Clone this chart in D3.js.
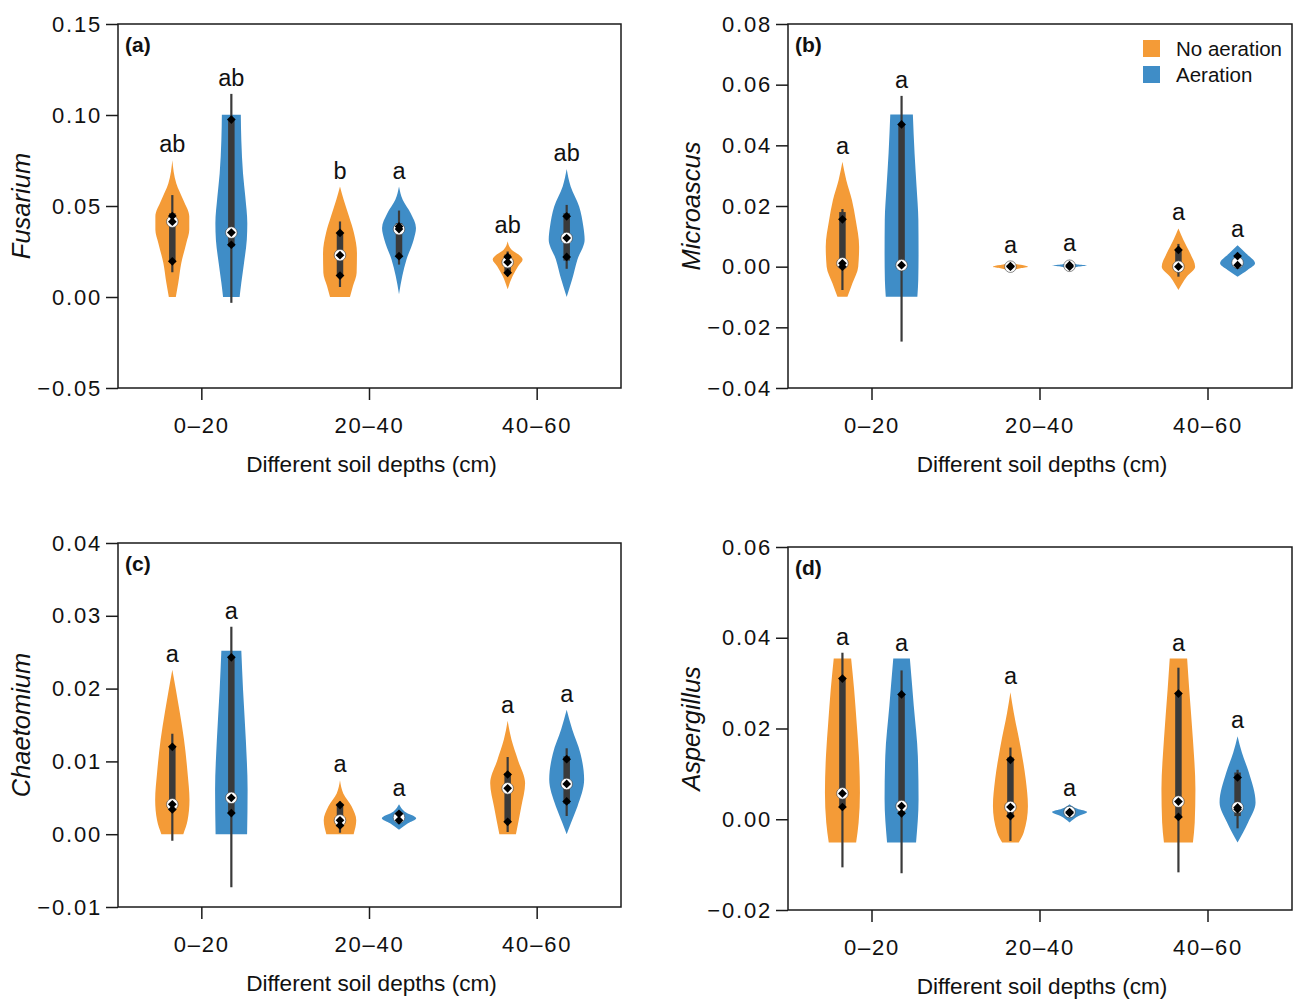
<!DOCTYPE html>
<html><head><meta charset="utf-8">
<script src="https://cdn.jsdelivr.net/npm/d3@7"></script>
<style>
body{margin:0;background:#fff}
text{font-family:"Liberation Sans",Arial,Helvetica,sans-serif;fill:#111}
</style>
</head><body>
<svg id="chart" width="1297" height="1006"></svg>
<script>
// ---------------- DATA ----------------
const categories = ["0–20", "20–40", "40–60"];
const treatments = ["No aeration", "Aeration"];
const panelTags = ["(a)", "(b)", "(c)", "(d)"];
const genera = ["Fusarium", "Microascus", "Chaetomium", "Aspergillus"];
const xTitle = "Different soil depths (cm)";

const yDomains = [[-0.05, 0.15], [-0.04, 0.08], [-0.01, 0.04], [-0.02, 0.06]];
const yTicksA = [-0.05, 0.00, 0.05, 0.10, 0.15];
const yTicksB = [-0.04, -0.02, 0.00, 0.02, 0.04, 0.06, 0.08];
const yTicksC = [-0.01, 0.00, 0.01, 0.02, 0.03, 0.04];
const yTicksD = [-0.02, 0.00, 0.02, 0.04, 0.06];

// order: 0–20 No aeration, 0–20 Aeration, 20–40 No, 20–40 A, 40–60 No, 40–60 A
const lettersA = ["ab", "ab", "b", "a", "ab", "ab"];
const lettersB = ["a", "a", "a", "a", "a", "a"];
const lettersC = ["a", "a", "a", "a", "a", "a"];
const lettersD = ["a", "a", "a", "a", "a", "a"];

// violin density profiles: [value, density]
const profileA = [
  [[0.0751,0],[0.0624,4],[0.0533,11],[0.0442,17],[0.0369,17],[0.0296,14],[0.0187,9],[0.0078,6],[0,3.5]],
  [[0.1002,9.5],[0.0861,10],[0.0679,11.7],[0.0551,14],[0.0405,16],[0.0314,15.5],[0.0187,12.7],[0.0078,10],[0,8.3]],
  [[0.0607,0],[0.0534,3.7],[0.0443,9],[0.0352,14],[0.0242,17],[0.0133,16.7],[0.006,13],[0,10]],
  [[0.0607,0],[0.0534,3.7],[0.046,11.7],[0.0379,17],[0.0315,14.7],[0.0206,7.5],[0.0115,3.3],[0.0015,0]],
  [[0.0306,0],[0.026,4],[0.0233,11],[0.0206,15],[0.0169,10.5],[0.0115,5],[0.0042,0]],
  [[0.0703,0],[0.0607,4],[0.0497,12.5],[0.0388,16.7],[0.0315,18],[0.0206,10.8],[0.0097,5.5],[0,0]]
];
const profileB = [
  [[0.0346,0],[0.0286,3.8],[0.022,9.5],[0.0154,13.3],[0.0066,16.7],[0,15.8],[-0.0055,10],[-0.0099,5]],
  [[0.0502,11.3],[0.0374,13],[0.0264,15],[0.0154,16.8],[0.0044,17],[-0.0044,16.7],[-0.0099,15.8]],
  [[0.0018,0],[0.0009,5],[0.0003,15],[0,17.5],[-0.0005,10],[-0.0013,0]],
  [[0.0024,0],[0.0013,2],[0.0007,8],[0.0004,17],[0.0,8],[-0.0007,2],[-0.0013,0]],
  [[0.0126,0],[0.0088,5],[0.0044,11.7],[0,16.7],[-0.0033,8.3],[-0.0077,0]],
  [[0.0071,0],[0.0044,8.3],[0.0011,17.5],[-0.0011,10],[-0.0033,0]]
];
const profileC = [
  [[0.0226,0],[0.0199,3.5],[0.0167,7.5],[0.013,11.7],[0.0084,15.3],[0.0047,17.2],[0.0019,15.3],[0,11]],
  [[0.0252,10],[0.0199,11.7],[0.013,14.5],[0.0061,16.3],[0,15.8]],
  [[0.0074,0],[0.0056,3.3],[0.0038,11.7],[0.0019,16.3],[0,13.7]],
  [[0.0041,0],[0.0031,5.8],[0.0022,17.2],[0.0015,9],[0.0006,0]],
  [[0.0156,0],[0.013,3.8],[0.0102,10.3],[0.007,17.5],[0.0038,13.7],[0,8.3]],
  [[0.0171,0],[0.0144,5.5],[0.0111,13.8],[0.0075,17.5],[0.0038,10.8],[0.0015,4.2],[0,0]]
];
const profileD = [
  [[0.0354,8.7],[0.0286,11.7],[0.0213,14.2],[0.0139,16.5],[0.0059,17.5],[-0.0007,16.2],[-0.0051,13.7]],
  [[0.0354,8.3],[0.025,12.2],[0.0139,16.3],[0.0044,17],[-0.0051,14.5]],
  [[0.028,0],[0.0235,3.3],[0.0161,10],[0.0088,15.3],[0.0029,17.5],[-0.0029,13.3],[-0.0051,8.3]],
  [[0.0033,0],[0.0023,7.8],[0.0016,17.5],[0.0007,9],[-0.0007,0]],
  [[0.0354,8.7],[0.0286,10.8],[0.0176,14.5],[0.0066,17],[-0.0007,16.3],[-0.0051,14.5]],
  [[0.0183,0],[0.0147,4.3],[0.0103,11.3],[0.0037,18],[-0.0007,10.5],[-0.0051,0]]
];

const whiskLoA = [0.0136, -0.0032, 0.0055, 0.0178, 0.0115, 0.0155];
const whiskHiA = [0.056, 0.1116, 0.0415, 0.0475, 0.025, 0.0506];
const q1A = [0.019, 0.0278, 0.0115, 0.0224, 0.0133, 0.020];
const q3A = [0.046, 0.097, 0.0352, 0.0406, 0.0233, 0.046];
const medianA = [0.0414, 0.0354, 0.023, 0.0373, 0.0191, 0.0324];
const pointsA = [[0.0445,0.0414,0.0196],[0.0975,0.0354,0.0287],[0.0352,0.023,0.0118],[0.0388,0.0373,0.0224],[0.022,0.0191,0.0133],[0.0443,0.0324,0.022]];

const whiskLoB = [-0.0077, -0.0247, 0, 0, -0.0033, -0.0005];
const whiskHiB = [0.019, 0.0563, 0, 0.0005, 0.0075, 0.0044];
const q1B = [0.0005, 0.0005, 0, 0, 0, 0.0002];
const q3B = [0.018, 0.0469, 0.0003, 0.0005, 0.0055, 0.0038];
const medianB = [0.0011, 0.0005, 0.0, 0.0003, 0.0, 0.0013];
const pointsB = [[0.0156,0.0011,0.0],[0.0469,0.0005],[0.0,0.0002],[0.0005,0.0],[0.0055,0.0],[0.0035,0.0005]];

const whiskLoC = [-0.0009, -0.0073, 0.0002, 0.0018, 0.0003, 0.0025];
const whiskHiC = [0.0138, 0.0285, 0.0045, 0.0028, 0.0106, 0.0118];
const q1C = [0.0033, 0.0029, 0.001, 0.0019, 0.0017, 0.0042];
const q3C = [0.0121, 0.0243, 0.0042, 0.0027, 0.0084, 0.0107];
const medianC = [0.0041, 0.005, 0.0019, 0.0023, 0.0063, 0.0069];
const pointsC = [[0.012,0.0041,0.0034],[0.0243,0.005,0.0029],[0.004,0.0019,0.0012],[0.0028,0.0019],[0.0082,0.0063,0.0017],[0.0103,0.0069,0.0045]];

const whiskLoD = [-0.0106, -0.0119, -0.0048, 0.0013, -0.0117, -0.002];
const whiskHiD = [0.0367, 0.0328, 0.0158, 0.0019, 0.0334, 0.0109];
const q1D = [0.0029, 0.0013, 0.0004, 0.0013, 0.0004, 0.0007];
const q3D = [0.0312, 0.0275, 0.0136, 0.0019, 0.0279, 0.0103];
const medianD = [0.0057, 0.0029, 0.0027, 0.0016, 0.0039, 0.0026];
const pointsD = [[0.031,0.0057,0.0027],[0.0275,0.0029,0.0013],[0.0131,0.0027,0.0007],[0.0016,0.0014],[0.0277,0.0039,0.0005],[0.0092,0.0026,0.0022]];

// ---------------- LAYOUT / STYLE ----------------
const colors = ["#f49b37", "#3f8dc7"];
const boxColor = "#3a3a3a";
const frames = [
  {left:118, right:621, top:24, bottom:388},
  {left:788, right:1292, top:24, bottom:388},
  {left:118, right:621, top:543, bottom:907},
  {left:788, right:1292, top:547, bottom:910}
];
const panels = [
  {ticks:yTicksA, letters:lettersA, prof:profileA, lo:whiskLoA, hi:whiskHiA, q1:q1A, q3:q3A, med:medianA, pts:pointsA},
  {ticks:yTicksB, letters:lettersB, prof:profileB, lo:whiskLoB, hi:whiskHiB, q1:q1B, q3:q3B, med:medianB, pts:pointsB},
  {ticks:yTicksC, letters:lettersC, prof:profileC, lo:whiskLoC, hi:whiskHiC, q1:q1C, q3:q3C, med:medianC, pts:pointsC},
  {ticks:yTicksD, letters:lettersD, prof:profileD, lo:whiskLoD, hi:whiskHiD, q1:q1D, q3:q3D, med:medianD, pts:pointsD}
];

const svg = d3.select("#chart");
const fmt = d3.format(".2f");

panels.forEach((p, pi) => {
  const f = frames[pi];
  const g = svg.append("g");
  const x = d3.scaleBand().domain(categories).range([f.left, f.right]).padding(0);
  const bw = x.bandwidth();
  const xHue = d3.scalePoint().domain(treatments).range([-0.176 * bw, 0.176 * bw]);
  const y = d3.scaleLinear().domain(yDomains[pi]).range([f.bottom, f.top]);
  const w = d3.scaleLinear().domain([0, 20]).range([0, 0.119 * bw]);

  // axes
  const yAx = g.append("g").attr("transform", `translate(${f.left},0)`)
    .call(d3.axisLeft(y).tickValues(p.ticks).tickFormat(fmt).tickSize(12).tickPadding(4).tickSizeOuter(0));
  yAx.select(".domain").remove();
  yAx.selectAll("line").attr("stroke", "#1a1a1a").attr("stroke-width", 1.5);
  yAx.selectAll("text").attr("font-size", 22).attr("letter-spacing", "1.8px").attr("fill", "#111");

  const xAx = g.append("g").attr("transform", `translate(0,${f.bottom})`)
    .call(d3.axisBottom(x).tickSize(12).tickPadding(17).tickSizeOuter(0));
  xAx.select(".domain").remove();
  xAx.selectAll("line").attr("stroke", "#1a1a1a").attr("stroke-width", 1.5);
  xAx.selectAll("text").attr("font-size", 22).attr("letter-spacing", "1.8px").attr("fill", "#111");

  g.append("rect").attr("x", f.left).attr("y", f.top)
    .attr("width", f.right - f.left).attr("height", f.bottom - f.top)
    .attr("fill", "none").attr("stroke", "#1a1a1a").attr("stroke-width", 1.5);

  // titles
  g.append("text").attr("x", (f.left + f.right) / 2 + 2).attr("y", f.bottom + 84)
    .attr("text-anchor", "middle").attr("font-size", 22.6).text(xTitle);
  g.append("text").attr("transform", `translate(${f.left - 88},${(f.top + f.bottom) / 2}) rotate(-90)`)
    .attr("text-anchor", "middle").attr("font-size", 25.5).attr("font-style", "italic").text(genera[pi]);
  g.append("text").attr("x", f.left + 7).attr("y", f.top + 28)
    .attr("font-size", 21).attr("font-weight", "bold").text(panelTags[pi]);

  // violins
  const items = [];
  categories.forEach((c, ci) => treatments.forEach((t, ti) => items.push({c, t, ti, i: ci * 2 + ti})));
  items.forEach(it => {
    const cx = x(it.c) + bw / 2 + xHue(it.t);
    const prof = p.prof[it.i];
    const area = d3.area().curve(d3.curveMonotoneY)
      .y(d => y(d[0])).x0(d => cx - w(d[1])).x1(d => cx + w(d[1]));
    g.append("path").attr("d", area(prof)).attr("fill", colors[it.ti]);
    // whisker
    g.append("line").attr("x1", cx).attr("x2", cx)
      .attr("y1", y(p.lo[it.i])).attr("y2", y(p.hi[it.i]))
      .attr("stroke", boxColor).attr("stroke-width", 2.2);
    // IQR bar
    g.append("line").attr("x1", cx).attr("x2", cx)
      .attr("y1", y(p.q1[it.i])).attr("y2", y(p.q3[it.i]))
      .attr("stroke", boxColor).attr("stroke-width", 6.5);
    // median
    g.append("circle").attr("cx", cx).attr("cy", y(p.med[it.i])).attr("r", 5.8)
      .attr("fill", "#fff").attr("stroke", boxColor).attr("stroke-width", 0.6);
    // points
    const sym = d3.symbol(d3.symbolSquare, 38);
    p.pts[it.i].forEach(v => {
      g.append("path").attr("d", sym())
        .attr("transform", `translate(${cx},${y(v)}) rotate(45)`).attr("fill", "#000");
    });
    // letter
    const top = Math.max(prof[0][0], p.hi[it.i]);
    g.append("text").attr("x", cx).attr("y", y(top) - 8)
      .attr("text-anchor", "middle").attr("font-size", 23.5).text(p.letters[it.i]);
  });
});

// legend
const lg = svg.append("g").attr("transform", "translate(1143,40)");
treatments.forEach((t, i) => {
  lg.append("rect").attr("x", 0).attr("y", i * 26).attr("width", 17).attr("height", 17).attr("fill", colors[i]);
  lg.append("text").attr("x", 33).attr("y", i * 26 + 16).attr("font-size", 20.5).text(t);
});
</script>
</body></html>
